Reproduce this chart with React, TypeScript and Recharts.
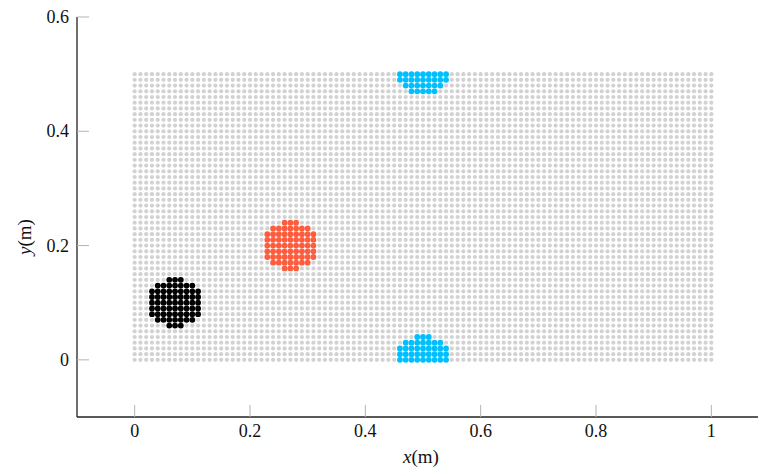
import { Scatter, ScatterChart, XAxis, YAxis } from "recharts";

// axes
const xTicks = [0, 0.2, 0.4, 0.6, 0.8, 1];
const yTicks = [0, 0.2, 0.4, 0.6];
const xDomain = [-0.1, 1.1];
const yDomain = [-0.1, 0.6];

// background particle lattice: 101 x 51 particles, 1 cm apart
const latticeCols = 101;
const latticeRows = 51;
const latticeStep = 0.01;

// coloured particles, row by row: [y, first x, last x]
const blackRows = [
  [0.14, 0.06, 0.08],
  [0.13, 0.04, 0.1],
  [0.12, 0.03, 0.11],
  [0.11, 0.03, 0.11],
  [0.1, 0.03, 0.11],
  [0.09, 0.03, 0.11],
  [0.08, 0.03, 0.11],
  [0.07, 0.04, 0.1],
  [0.06, 0.06, 0.08],
];
const redRows = [
  [0.24, 0.26, 0.28],
  [0.23, 0.24, 0.3],
  [0.22, 0.23, 0.31],
  [0.21, 0.23, 0.31],
  [0.2, 0.23, 0.31],
  [0.19, 0.23, 0.31],
  [0.18, 0.23, 0.31],
  [0.17, 0.24, 0.3],
  [0.16, 0.26, 0.28],
];
const cyanTopRows = [
  [0.5, 0.46, 0.54],
  [0.49, 0.46, 0.54],
  [0.48, 0.47, 0.53],
  [0.47, 0.48, 0.52],
];
const cyanBottomRows = [
  [0.04, 0.49, 0.51],
  [0.03, 0.47, 0.53],
  [0.02, 0.46, 0.54],
  [0.01, 0.46, 0.54],
  [0, 0.46, 0.54],
];

const serif = "Liberation Serif, DejaVu Serif, serif";
const textStyle = { fontFamily: serif, fontSize: 18 };
const tickGray = "#b4b4b4";
const frame = "#222";

type Pt = { x: number; y: number };

const lattice: Pt[] = [];
for (let j = 0; j < latticeRows; j++) {
  for (let i = 0; i < latticeCols; i++) {
    lattice.push({ x: i * latticeStep, y: j * latticeStep });
  }
}

function rowsToPoints(rows: number[][]): Pt[] {
  const pts: Pt[] = [];
  rows.forEach(([y, x0, x1]) => {
    for (let k = Math.round(x0 * 100); k <= Math.round(x1 * 100); k++) {
      pts.push({ x: k / 100, y });
    }
  });
  return pts;
}

const blackPts = rowsToPoints(blackRows);
const redPts = rowsToPoints(redRows);
const cyanPts = [...rowsToPoints(cyanTopRows), ...rowsToPoints(cyanBottomRows)];

const dot = (r: number, fill: string) => (p: any) =>
  <circle cx={p.cx} cy={p.cy} r={r} fill={fill} />;

const BottomTick = (p: any) => (
  <g>
    <line x1={p.x} y1={p.y} x2={p.x} y2={p.y - 12} stroke={tickGray} />
    <text x={p.x} y={p.y + 20} textAnchor="middle" style={textStyle} fill="#111">
      {String(p.payload.value)}
    </text>
  </g>
);

const TopTick = (p: any) => (
  <line x1={p.x} y1={p.y} x2={p.x} y2={p.y + 12} stroke={tickGray} />
);

const LeftTick = (p: any) => (
  <g>
    <line x1={p.x} y1={p.y} x2={p.x + 12} y2={p.y} stroke={tickGray} />
    <text x={p.x - 8} y={p.y + 6} textAnchor="end" style={textStyle} fill="#111">
      {String(p.payload.value)}
    </text>
  </g>
);

const RightTick = (p: any) => (
  <line x1={p.x} y1={p.y} x2={p.x - 12} y2={p.y} stroke={tickGray} />
);

const XTitle = () => (
  <text x={421} y={463} textAnchor="middle" style={{ ...textStyle, fontSize: 19 }} fill="#111">
    <tspan fontStyle="italic">x</tspan>(m)
  </text>
);

const YTitle = () => (
  <text
    x={31}
    y={237}
    transform="rotate(-90 31 237)"
    textAnchor="middle"
    style={{ ...textStyle, fontSize: 19 }}
    fill="#111"
  >
    <tspan fontStyle="italic">y</tspan>(m)
  </text>
);

export default function App() {
  return (
    <div
      style={{
        position: "absolute",
        left: 0,
        top: 0,
        width: 758,
        height: 468,
        overflow: "hidden",
        background: "#fff",
      }}
    >
      <ScatterChart width={769} height={468} margin={{ top: 17, right: 0, bottom: 0, left: 0 }}>
        <XAxis
          type="number"
          dataKey="x"
          domain={xDomain}
          ticks={xTicks}
          allowDataOverflow
          height={51}
          axisLine={{ stroke: frame, strokeWidth: 1.3 }}
          tickLine={false}
          tickSize={0}
          tickMargin={0}
          tick={<BottomTick />}
          label={<XTitle />}
        />
        <XAxis
          xAxisId="top"
          orientation="top"
          type="number"
          domain={xDomain}
          ticks={xTicks}
          allowDataOverflow
          height={0}
          axisLine={{ stroke: frame, strokeWidth: 1.3 }}
          tickLine={false}
          tickSize={0}
          tickMargin={0}
          tick={<TopTick />}
        />
        <YAxis
          type="number"
          dataKey="y"
          domain={yDomain}
          ticks={yTicks}
          allowDataOverflow
          width={77}
          axisLine={{ stroke: frame, strokeWidth: 1.3 }}
          tickLine={false}
          tickSize={0}
          tickMargin={0}
          tick={<LeftTick />}
          label={<YTitle />}
        />
        <YAxis
          yAxisId="right"
          orientation="right"
          type="number"
          domain={yDomain}
          ticks={yTicks}
          allowDataOverflow
          width={0}
          axisLine={{ stroke: frame, strokeWidth: 1.3 }}
          tickLine={false}
          tickSize={0}
          tickMargin={0}
          tick={<RightTick />}
        />
        <Scatter data={lattice} shape={dot(2.1, "#d2d2d2")} isAnimationActive={false} />
        <Scatter data={blackPts} shape={dot(2.9, "#000")} isAnimationActive={false} />
        <Scatter data={redPts} shape={dot(2.9, "#ff5c3d")} isAnimationActive={false} />
        <Scatter data={cyanPts} shape={dot(2.9, "#00bfff")} isAnimationActive={false} />
      </ScatterChart>
    </div>
  );
}
